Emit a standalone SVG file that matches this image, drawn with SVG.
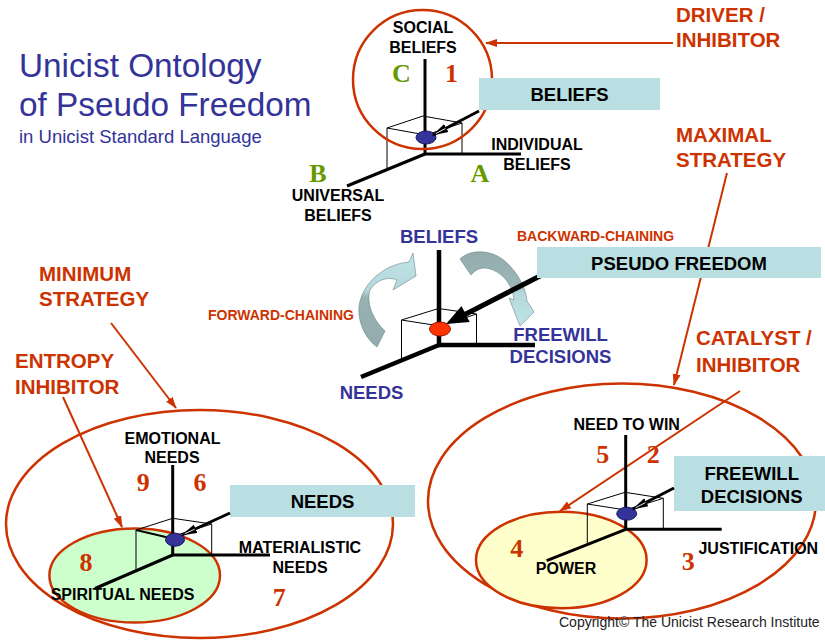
<svg xmlns="http://www.w3.org/2000/svg" width="825" height="641" viewBox="0 0 825 641">
  <defs>
    <style>
      .sans{font-family:"Liberation Sans",Arial,sans-serif}
      .title{font-family:"Liberation Sans",Arial,sans-serif;fill:#333399}
      .lbl{font-family:"Liberation Sans",Arial,sans-serif;font-weight:bold;font-size:16px;fill:#000;text-anchor:middle}
      .box{fill:#b9dfe3}
      .boxt{font-family:"Liberation Sans",Arial,sans-serif;font-weight:bold;font-size:18.5px;fill:#000;text-anchor:middle}
      .blue{font-family:"Liberation Sans",Arial,sans-serif;font-weight:bold;font-size:18.5px;fill:#333399;text-anchor:middle}
      .role{font-family:"Liberation Sans",Arial,sans-serif;font-weight:bold;font-size:20.5px;fill:#cc3300}
      .chain{font-family:"Liberation Sans",Arial,sans-serif;font-weight:bold;font-size:14px;fill:#cc3300}
      .num{font-family:"Liberation Serif","Times New Roman",serif;font-weight:bold;font-size:26px;fill:#cc3300;text-anchor:middle}
      .abc{font-family:"Liberation Serif","Times New Roman",serif;font-weight:bold;font-size:26px;fill:#669900;text-anchor:middle}
      .axis{stroke:#000;stroke-width:3;fill:none}
      .axis-thick{stroke:#000;stroke-width:4.5;fill:none}
      .cube{stroke:#000;stroke-width:1;fill:none}
      .ring{fill:none;stroke:#cc3300;stroke-width:2.5}
      .red{stroke:#cc3300;stroke-width:2;fill:none;marker-end:url(#redHead)}
      .ptr{stroke:#000;stroke-width:3;fill:none;marker-end:url(#ptrHead)}
      .dot{fill:#333399;stroke:#1a1a66;stroke-width:1}
    </style>
    <marker id="redHead" viewBox="0 0 12 10" refX="11" refY="5" markerWidth="12" markerHeight="10" markerUnits="userSpaceOnUse" orient="auto">
      <path d="M0,1 L12,5 L0,9 z" fill="#cc3300"/>
    </marker>
    <marker id="ptrHead" viewBox="0 0 16 10" refX="15" refY="5" markerWidth="16" markerHeight="10" markerUnits="userSpaceOnUse" orient="auto">
      <path d="M0,0.5 L16,5 L0,9.5 z" fill="#000"/>
      <path d="M1,5 L12,5" stroke="#fff" stroke-width="0.8"/>
    </marker>
    <linearGradient id="fwdFill" x1="0" y1="0" x2="0" y2="1">
      <stop offset="0" stop-color="#bfe4e8"/>
      <stop offset="0.4" stop-color="#b4d8dc"/>
      <stop offset="0.47" stop-color="#97b1b3"/>
      <stop offset="1" stop-color="#94acae"/>
    </linearGradient>
    <linearGradient id="bwdFill" x1="0" y1="0" x2="0" y2="1">
      <stop offset="0" stop-color="#94acae"/>
      <stop offset="0.45" stop-color="#9ab5b8"/>
      <stop offset="0.55" stop-color="#b4d8dc"/>
      <stop offset="1" stop-color="#bfe4e8"/>
    </linearGradient>
  </defs>

  <rect width="825" height="641" fill="#fff"/>

  <!-- heading -->
  <g id="title">
    <text class="title" x="19" y="77" font-size="33.3">Unicist Ontology</text>
    <text class="title" x="19" y="116" font-size="33.3">of Pseudo Freedom</text>
    <text class="title" x="19" y="143" font-size="18.5">in Unicist Standard Language</text>
  </g>

  <!-- connectors: role arrows and chaining arrows -->
  <g id="connectors">
    <line class="red" x1="673" y1="43" x2="486" y2="43"/>
    <line class="red" x1="727" y1="173" x2="674" y2="385"/>
    <line class="red" x1="740" y1="391" x2="560" y2="511"/>
    <line class="red" x1="111" y1="323" x2="176" y2="408"/>
    <line class="red" x1="63" y1="397" x2="122" y2="527"/>
  </g>

  <!-- BELIEFS cube (top) -->
  <g id="beliefs-cube">
    <polyline class="cube" points="387,168 387,128 423,116 462,123 462,154"/>
    <polyline class="cube" points="387,128 426,135 462,123"/>
    <line class="axis" x1="425" y1="59" x2="425" y2="154"/>
    <line class="axis" x1="424" y1="154" x2="521" y2="154"/>
    <line class="axis" x1="425" y1="154" x2="347" y2="186"/>
    <circle class="ring" cx="422.5" cy="79.5" r="69.5"/>
    <ellipse class="dot" cx="426" cy="137.5" rx="10" ry="6.5"/>
    <rect class="box" x="479" y="78" width="181" height="32"/>
    <text class="boxt" x="569.5" y="101">BELIEFS</text>
    <line class="ptr" x1="479" y1="111" x2="433" y2="135"/>
    <text class="lbl" x="423" y="33">SOCIAL</text>
    <text class="lbl" x="423" y="53">BELIEFS</text>
    <text class="lbl" x="537" y="150">INDIVIDUAL</text>
    <text class="lbl" x="537" y="170">BELIEFS</text>
    <text class="lbl" x="338" y="201">UNIVERSAL</text>
    <text class="lbl" x="338" y="221">BELIEFS</text>
    <text class="abc" x="401.5" y="82">C</text>
    <text class="num" x="451.5" y="82">1</text>
    <text class="abc" x="318" y="182" font-size="25">B</text>
    <text class="abc" x="480" y="182">A</text>
  </g>

  <!-- PSEUDO FREEDOM cube (middle) -->
  <g id="pseudo-freedom-cube">
    <path d="M409,262 L413,253 L416,276 L393,290 L397,280 C388,276 376,280 370,290 C366,303 373,320 385,331 L377,347 C362,336 355,314 361,298 C367,280 386,264 409,262 Z" fill="url(#fwdFill)" stroke="#6e8486" stroke-width="0.6"/>
    <path d="M460,259 C470,249 492,249 506,262 C518,273 526,288 527,301 L534,312 L520,326 L509,298 L514,300 C513,287 505,275 493,270 C484,266 477,268 471,275 Z" fill="url(#bwdFill)" stroke="#6e8486" stroke-width="0.6"/>
    <polyline class="cube" points="401.5,359 401.5,320 438.5,308.5 476.5,314 476.5,345"/>
    <polyline class="cube" points="401.5,320 440,326 476.5,314"/>
    <line class="axis-thick" x1="439" y1="250" x2="439" y2="345"/>
    <line class="axis-thick" x1="437" y1="345" x2="535" y2="345"/>
    <line class="axis-thick" x1="439" y1="345" x2="361" y2="377"/>
    <ellipse cx="440" cy="329" rx="10.5" ry="7" fill="#ff3300" stroke="#991a00" stroke-width="1"/>
    <line x1="540" y1="276" x2="462" y2="316" stroke="#000" stroke-width="5"/>
    <polygon points="446,324 461.5,306 469.7,322" fill="#000"/>
    <rect class="box" x="537" y="247" width="284" height="31"/>
    <text class="boxt" x="679" y="270">PSEUDO FREEDOM</text>
    <text class="blue" x="439" y="243">BELIEFS</text>
    <text class="blue" x="560.5" y="341">FREEWILL</text>
    <text class="blue" x="560.5" y="363">DECISIONS</text>
    <text class="blue" x="371.5" y="399">NEEDS</text>
    <text class="chain" x="517" y="241">BACKWARD-CHAINING</text>
    <text class="chain" x="208" y="320">FORWARD-CHAINING</text>
  </g>

  <!-- NEEDS cube (bottom left) -->
  <g id="needs-cube">
    <ellipse class="ring" cx="199.5" cy="524" rx="193.5" ry="114"/>
    <ellipse cx="134.7" cy="575.5" rx="85.3" ry="47" fill="#ccffcc" stroke="#cc3300" stroke-width="2.5"/>
    <polyline class="cube" points="136,570 136,530 172.7,518.3 211.7,524 211.7,555"/>
    <polyline class="cube" points="211.7,524 175,535.7"/>
    <line x1="136" y1="530" x2="170" y2="538" stroke="#000" stroke-width="1.8"/>
    <line class="axis" x1="172.7" y1="465" x2="172.7" y2="555"/>
    <line class="axis" x1="171.5" y1="555" x2="270" y2="555"/>
    <line class="axis" x1="172.7" y1="555" x2="95" y2="588.5"/>
    <ellipse class="dot" cx="175" cy="539.7" rx="9.5" ry="6.5"/>
    <rect class="box" x="230" y="485" width="185" height="32"/>
    <text class="boxt" x="322.5" y="508">NEEDS</text>
    <line class="ptr" x1="230" y1="513" x2="182" y2="535"/>
    <text class="lbl" x="172.5" y="444">EMOTIONAL</text>
    <text class="lbl" x="172" y="463">NEEDS</text>
    <text class="lbl" x="300" y="553">MATERIALISTIC</text>
    <text class="lbl" x="300" y="573">NEEDS</text>
    <text class="lbl" x="122.5" y="600">SPIRITUAL NEEDS</text>
    <text class="num" x="143.3" y="491">9</text>
    <text class="num" x="200" y="491">6</text>
    <text class="num" x="86" y="571">8</text>
    <text class="num" x="279.3" y="606">7</text>
  </g>

  <!-- FREEWILL DECISIONS cube (bottom right) -->
  <g id="freewill-cube">
    <ellipse class="ring" cx="622" cy="501" rx="194" ry="117.5"/>
    <ellipse cx="561.3" cy="560" rx="85.3" ry="48.3" fill="#ffffcc" stroke="#cc3300" stroke-width="2.5"/>
    <polyline class="cube" points="587.3,544.5 587.3,504 625,492.3 663.3,498.3 663.3,529.3"/>
    <polyline class="cube" points="587.3,504 625.6,510 663.3,498.3"/>
    <line class="axis" x1="625.7" y1="435" x2="625.7" y2="529.3"/>
    <line class="axis" x1="624.5" y1="529.3" x2="721.7" y2="529.3"/>
    <line class="axis" x1="625.7" y1="529.3" x2="546.7" y2="560.7"/>
    <ellipse class="dot" cx="626.7" cy="513.7" rx="10" ry="6.5"/>
    <rect class="box" x="674" y="456" width="151" height="55"/>
    <text class="boxt" x="751.7" y="480">FREEWILL</text>
    <text class="boxt" x="751.7" y="503">DECISIONS</text>
    <line class="ptr" x1="674" y1="488" x2="633" y2="509"/>
    <text class="lbl" x="626.7" y="430">NEED TO WIN</text>
    <text class="lbl" x="566" y="573.5">POWER</text>
    <text class="lbl" x="758.3" y="553.5">JUSTIFICATION</text>
    <text class="num" x="602.7" y="463">5</text>
    <text class="num" x="653.3" y="463">2</text>
    <text class="num" x="516.7" y="557">4</text>
    <text class="num" x="688.3" y="570">3</text>
  </g>

  <!-- strategy and role captions -->
  <g id="role-labels">
    <text class="role" x="676" y="22">DRIVER /</text>
    <text class="role" x="676" y="47">INHIBITOR</text>
    <text class="role" x="676" y="142">MAXIMAL</text>
    <text class="role" x="676" y="167">STRATEGY</text>
    <text class="role" x="696" y="345">CATALYST /</text>
    <text class="role" x="696" y="371.5">INHIBITOR</text>
    <text class="role" x="39" y="281">MINIMUM</text>
    <text class="role" x="39" y="306">STRATEGY</text>
    <text class="role" x="15" y="368">ENTROPY</text>
    <text class="role" x="15" y="394">INHIBITOR</text>
  </g>

  <text class="sans" x="559" y="627" font-size="14" fill="#222">Copyright© The Unicist Research Institute</text>
</svg>
